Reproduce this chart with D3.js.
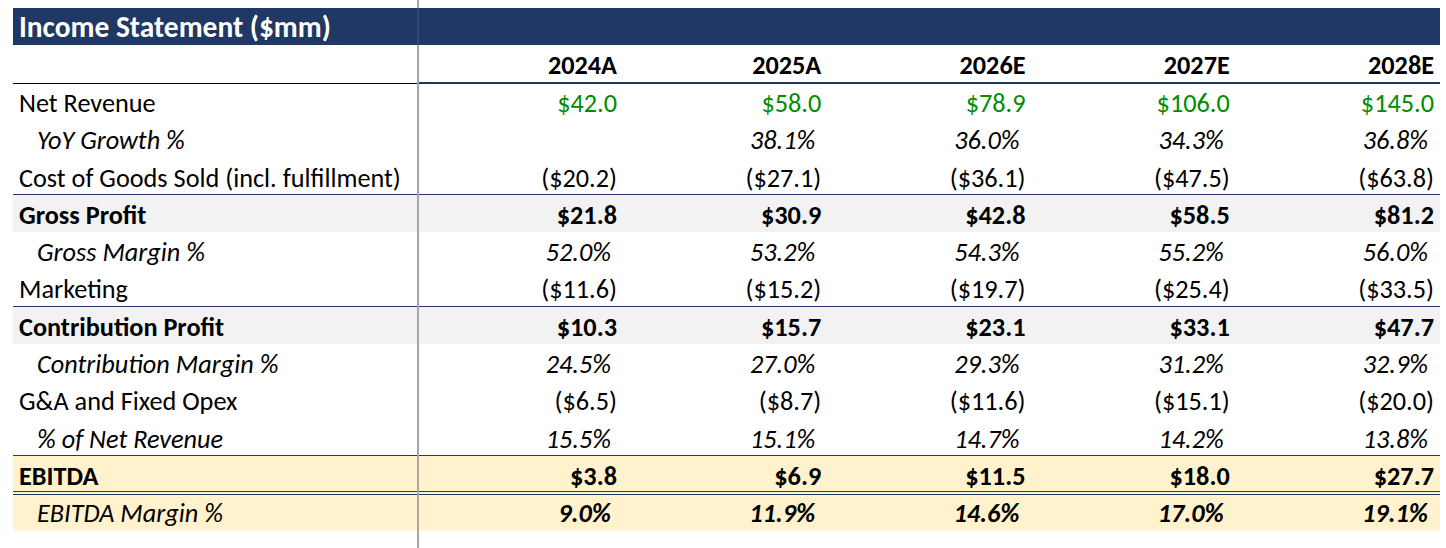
<!DOCTYPE html>
<html>
<head>
<meta charset="utf-8">
<script src="https://cdn.jsdelivr.net/npm/d3@7"></script>
<style>
  html, body { margin: 0; padding: 0; background: #ffffff; }
  svg { display: block; }
  text { font-family: Carlito, Lato, "Open Sans", sans-serif; }
</style>
</head>
<body>
<svg id="chart" width="1446" height="548"></svg>
<script>
// ---- data ----
const title = "Income Statement ($mm)";
const years = ["2024A", "2025A", "2026E", "2027E", "2028E"];
const netRevenue = [42.0, 58.0, 78.9, 106.0, 145.0];
const yoyGrowth = [null, 38.1, 36.0, 34.3, 36.8];
const cogs = [-20.2, -27.1, -36.1, -47.5, -63.8];
const grossProfit = [21.8, 30.9, 42.8, 58.5, 81.2];
const grossMargin = [52.0, 53.2, 54.3, 55.2, 56.0];
const marketing = [-11.6, -15.2, -19.7, -25.4, -33.5];
const contributionProfit = [10.3, 15.7, 23.1, 33.1, 47.7];
const contributionMargin = [24.5, 27.0, 29.3, 31.2, 32.9];
const gaOpex = [-6.5, -8.7, -11.6, -15.1, -20.0];
const gaPctRevenue = [15.5, 15.1, 14.7, 14.2, 13.8];
const ebitda = [3.8, 6.9, 11.5, 18.0, 27.7];
const ebitdaMargin = [9.0, 11.9, 14.6, 17.0, 19.1];

// row table built from the arrays above
const rows = [
  { label: "Net Revenue", values: netRevenue, kind: "money", style: "green" },
  { label: "YoY Growth %", values: yoyGrowth, kind: "pct", style: "italic" },
  { label: "Cost of Goods Sold (incl. fulfillment)", values: cogs, kind: "money", style: "plain" },
  { label: "Gross Profit", values: grossProfit, kind: "money", style: "total" },
  { label: "Gross Margin %", values: grossMargin, kind: "pct", style: "italic" },
  { label: "Marketing", values: marketing, kind: "money", style: "plain" },
  { label: "Contribution Profit", values: contributionProfit, kind: "money", style: "total" },
  { label: "Contribution Margin %", values: contributionMargin, kind: "pct", style: "italic" },
  { label: "G&A and Fixed Opex", values: gaOpex, kind: "money", style: "plain" },
  { label: "% of Net Revenue", values: gaPctRevenue, kind: "pct", style: "italic" },
  { label: "EBITDA", values: ebitda, kind: "money", style: "ebitda" },
  { label: "EBITDA Margin %", values: ebitdaMargin, kind: "pct", style: "ebitdaPct" }
];

// ---- layout ----
const W = 1446, H = 548;
const left = 13, right = 1440, splitX = 418;
const barTop = 8, barBottom = 45, headBottom = 83, tableBottom = 530.5;
const navy = "#203864", green = "#008c00";

const svg = d3.select("#chart");

const y = d3.scaleBand().domain(d3.range(rows.length)).range([headBottom, tableBottom]).padding(0);
const x = d3.scalePoint().domain(years).range([617, 1434]);

const fmtMoney = v => v < 0 ? "($" + Math.abs(v).toFixed(1) + ")" : "$" + v.toFixed(1);
const fmtPct = v => v.toFixed(1) + "%";

// font fit: measure reference strings
const probe = svg.append("text").attr("font-size", 20).text("Cost of Goods Sold (incl. fulfillment)");
const fs = 20 * 382 / probe.node().getComputedTextLength();
probe.attr("font-weight", "bold").attr("font-size", 20).text(title);
const tfs = 20 * 312 / probe.node().getComputedTextLength();
probe.remove();

// backgrounds
const bgColor = { total: "#f2f2f2", ebitda: "#fff2cc", ebitdaPct: "#fff2cc" };
svg.append("g").selectAll("rect")
  .data(rows.map((r, i) => ({ r, i })).filter(d => bgColor[d.r.style]))
  .join("rect")
  .attr("x", left).attr("width", right - left)
  .attr("y", d => y(d.i)).attr("height", y.bandwidth())
  .attr("fill", d => bgColor[d.r.style]);

// vertical split line (behind bar)
svg.append("line").attr("x1", splitX).attr("x2", splitX).attr("y1", 0).attr("y2", H)
  .attr("stroke", "#a6a6a6").attr("stroke-width", 2);

// header bar
svg.append("rect").attr("x", left).attr("y", barTop).attr("width", right - left).attr("height", barBottom - barTop)
  .attr("fill", navy);
svg.append("line").attr("x1", splitX).attr("x2", splitX).attr("y1", barTop).attr("y2", barBottom)
  .attr("stroke", "#4a5a78").attr("stroke-width", 1);
svg.append("text").attr("x", 19).attr("y", 37).attr("fill", "#ffffff")
  .attr("font-weight", "bold").attr("font-size", tfs).text(title);

// header rule
svg.append("line").attr("x1", left).attr("x2", splitX).attr("y1", 83.5).attr("y2", 83.5)
  .attr("stroke", "#000000").attr("stroke-width", 1);
svg.append("line").attr("x1", splitX).attr("x2", right).attr("y1", 83).attr("y2", 83)
  .attr("stroke", navy).attr("stroke-width", 2);

// row rules
const ruleRows = rows.map((r, i) => ({ r, i })).filter(d => d.r.style === "total" || d.r.style === "ebitda");
svg.append("g").selectAll("line")
  .data(ruleRows).join("line")
  .attr("x1", left).attr("x2", right)
  .attr("y1", d => Math.round(y(d.i)) - 0.5).attr("y2", d => Math.round(y(d.i)) - 0.5)
  .attr("stroke", navy).attr("stroke-width", 1);
// double rule under EBITDA
const ebIdx = rows.findIndex(r => r.style === "ebitdaPct");
[-1.5, 1.5].forEach(o => {
  svg.append("line").attr("x1", left).attr("x2", right)
    .attr("y1", Math.round(y(ebIdx)) + o).attr("y2", Math.round(y(ebIdx)) + o)
    .attr("stroke", navy).attr("stroke-width", 1);
});

// re-draw split line over rules / backgrounds (below header)
svg.append("line").attr("x1", splitX).attr("x2", splitX).attr("y1", barBottom).attr("y2", H)
  .attr("stroke", "#a6a6a6").attr("stroke-width", 2);

// year headers
svg.append("g").selectAll("text").data(years).join("text")
  .attr("x", d => x(d)).attr("y", barBottom + 29)
  .attr("text-anchor", "end").attr("font-weight", "bold").attr("font-size", fs)
  .attr("fill", "#000").text(d => d);

// row labels
const isBold = s => s === "total" || s === "ebitda" || s === "ebitdaPct";
const isItalic = s => s === "italic" || s === "ebitdaPct";
svg.append("g").selectAll("text").data(rows).join("text")
  .attr("x", d => isItalic(d.style) ? 37 : 19)
  .attr("y", (d, i) => y(i) + 29)
  .attr("font-size", fs)
  .attr("font-weight", d => d.style === "total" || d.style === "ebitda" ? "bold" : "normal")
  .attr("font-style", d => isItalic(d.style) ? "italic" : "normal")
  .attr("fill", "#000").text(d => d.label);

// values
const cells = [];
rows.forEach((r, i) => r.values.forEach((v, j) => { if (v !== null) cells.push({ r, i, v, year: years[j] }); }));
svg.append("g").selectAll("text").data(cells).join("text")
  .attr("x", d => x(d.year) - (d.r.kind === "pct" ? 6 : 0))
  .attr("y", d => y(d.i) + 29)
  .attr("text-anchor", "end")
  .attr("font-size", fs)
  .attr("font-weight", d => isBold(d.r.style) ? "bold" : "normal")
  .attr("font-style", d => isItalic(d.r.style) ? "italic" : "normal")
  .attr("fill", d => d.r.style === "green" ? green : "#000")
  .text(d => d.r.kind === "pct" ? fmtPct(d.v) : fmtMoney(d.v));
</script>
</body>
</html>
